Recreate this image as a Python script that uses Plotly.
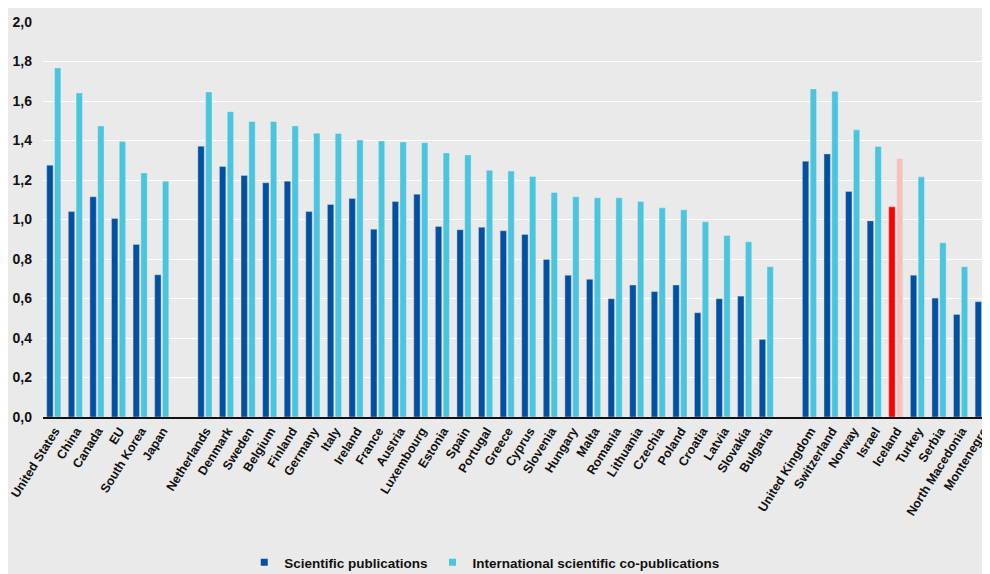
import plotly.graph_objects as go

# Countries in chart order ("" entries are the group gaps)
countries = [
    "United States", "China", "Canada", "EU", "South Korea", "Japan", "",
    "Netherlands", "Denmark", "Sweden", "Belgium", "Finland", "Germany", "Italy",
    "Ireland", "France", "Austria", "Luxembourg", "Estonia", "Spain", "Portugal",
    "Greece", "Cyprus", "Slovenia", "Hungary", "Malta", "Romania", "Lithuania",
    "Czechia", "Poland", "Croatia", "Latvia", "Slovakia", "Bulgaria", " ",
    "United Kingdom", "Switzerland", "Norway", "Israel", "Iceland", "Turkey",
    "Serbia", "North Macedonia", "Montenegro",
]

publications = [
    1.275, 1.040, 1.115, 1.005, 0.874, 0.720, None,
    1.371, 1.268, 1.223, 1.186, 1.194, 1.040, 1.076,
    1.106, 0.951, 1.091, 1.128, 0.965, 0.948, 0.961,
    0.943, 0.924, 0.798, 0.718, 0.697, 0.599, 0.668,
    0.635, 0.668, 0.528, 0.599, 0.612, 0.393, None,
    1.295, 1.332, 1.142, 0.993, 1.064, 0.718,
    0.602, 0.519, 0.584,
]

co_publications = [
    1.767, 1.641, 1.474, 1.395, 1.236, 1.194, None,
    1.646, 1.546, 1.496, 1.496, 1.474, 1.437, 1.435,
    1.403, 1.398, 1.393, 1.389, 1.337, 1.327, 1.250,
    1.245, 1.218, 1.137, 1.115, 1.110, 1.110, 1.091,
    1.059, 1.049, 0.988, 0.919, 0.887, 0.761, None,
    1.661, 1.649, 1.454, 1.369, 1.309, 1.216,
    0.882, 0.761, 0.751,
]

y_ticks = [0.0, 0.2, 0.4, 0.6, 0.8, 1.0, 1.2, 1.4, 1.6, 1.8, 2.0]

DARK = "#0450A0"
LIGHT = "#4BC4DE"
HIGHLIGHT = "Iceland"

dark_colors = ["#FF0000" if c == HIGHLIGHT else DARK for c in countries]
light_colors = ["#F4C2BA" if c == HIGHLIGHT else LIGHT for c in countries]

font_family = "Liberation Sans, Arial, sans-serif"

fig = go.Figure()
fig.add_trace(go.Bar(
    x=countries, y=publications, name="Scientific publications",
    marker=dict(color=dark_colors, line=dict(color="rgba(210,222,236,0.7)", width=0.6)),
    showlegend=False,
))
fig.add_trace(go.Bar(
    x=countries, y=co_publications, name="International scientific co-publications",
    marker=dict(color=light_colors, line=dict(color="rgba(225,240,245,0.7)", width=0.6)),
    showlegend=False,
))

# legend-only entries with small square swatches
for name, color in [("Scientific publications", DARK),
                    ("International scientific co-publications", LIGHT)]:
    fig.add_trace(go.Scatter(
        x=[None], y=[None], mode="markers", name=name,
        marker=dict(symbol="square", size=7, color=color),
    ))

fig.update_layout(
    width=990,
    height=574,
    margin=dict(l=35, r=5, t=14, b=164),
    paper_bgcolor="#EAEAEA",
    plot_bgcolor="#EAEAEA",
    separators=", ",
    barmode="group",
    bargap=0.28,
    bargroupgap=0.18,
    font=dict(family=font_family, size=14, color="#111111"),
    legend=dict(
        orientation="h",
        x=0.465, xanchor="center",
        y=-0.365, yanchor="middle",
        font=dict(size=13.5, weight="bold"),
        bgcolor="rgba(0,0,0,0)",
        itemwidth=30,
    ),
    xaxis=dict(
        type="category",
        categoryorder="array",
        categoryarray=countries,
        range=[-0.5, len(countries) - 0.5],
        tickangle=-58,
        tickfont=dict(size=12.5, weight="bold"),
        ticklabelshift=1,
        showgrid=False,
        showline=True,
        linecolor="#111111",
        linewidth=1.5,
        ticks="",
        automargin=False,
    ),
    yaxis=dict(
        range=[0, 2.0],
        tickvals=y_ticks,
        tickformat=".1f",
        tickfont=dict(size=14, weight="bold"),
        showgrid=True,
        gridcolor="#FFFFFF",
        gridwidth=1.2,
        zeroline=False,
        ticks="",
        ticklabelstandoff=10,
        automargin=False,
    ),
)

fig.write_html("out.html")
